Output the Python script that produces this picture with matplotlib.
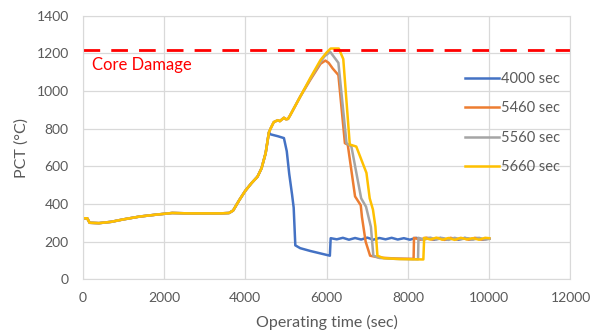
import matplotlib.pyplot as plt

plt.rcParams['font.family'] = ['Lato', 'DejaVu Sans']

# shared heat-up before the cases split
t_common = [0, 110, 170, 400, 700, 1000, 1400, 1800, 2200, 2600, 3000, 3400, 3600,
            3700, 3850, 4000, 4150, 4300, 4400, 4500, 4580]
v_common = [324, 324, 300, 298, 305, 318, 333, 343, 352, 350, 350, 350, 352,
            365, 420, 470, 510, 545, 590, 670, 780]

t_4000 = t_common + [4620, 4800, 4950, 5020, 5080, 5150, 5190, 5230, 5350, 5600, 5850, 6080,
                     6100, 6250, 6400, 6550, 6700, 6850, 7000, 7150, 7300, 7450, 7600, 7750,
                     7900, 8050, 8200, 8350, 8500, 8650, 8800, 8950, 9100, 9250, 9400, 9550,
                     9700, 9850, 10000]
v_4000 = v_common + [770, 760, 750, 680, 560, 450, 380, 180, 165, 150, 137, 125,
                     218, 212, 220, 210, 219, 211, 221, 210, 219, 212, 220, 211,
                     218, 210, 220, 212, 219, 210, 220, 211, 218, 210, 220, 212,
                     219, 211, 216]

t_5460 = t_common + [4620, 4700, 4800, 4850, 4950, 5000, 5050, 5100, 5350, 5600, 5850, 5970,
                     6050, 6150, 6290, 6450, 6520, 6700, 6840, 6870, 6960, 7070, 7300, 7700,
                     8140, 8150, 8300, 8450, 8600, 8750, 8900, 9050, 9200, 9350, 9500, 9650,
                     9800, 10000]
v_5460 = v_common + [800, 835, 845, 840, 858, 850, 852, 870, 970, 1060, 1145, 1162,
                     1150, 1120, 1085, 723, 715, 440, 393, 330, 200, 125, 115, 110,
                     108, 220, 210, 221, 211, 219, 209, 220, 212, 218, 210, 220,
                     211, 216]

t_5560 = t_common + [4620, 4700, 4800, 4850, 4950, 5000, 5050, 5100, 5350, 5600, 5850, 5950,
                     6090, 6290, 6490, 6610, 6850, 6970, 7090, 7150, 7300, 7700, 8250,
                     8260, 8400, 8550, 8700, 8850, 9000, 9150, 9300, 9450, 9600, 9750,
                     9900, 10000]
v_5560 = v_common + [800, 835, 845, 840, 858, 850, 852, 870, 970, 1065, 1155, 1185,
                     1208, 1150, 723, 705, 430, 385, 278, 125, 113, 108, 106,
                     220, 210, 221, 211, 219, 209, 220, 212, 218, 210, 220,
                     211, 214]

t_5660 = t_common + [4620, 4700, 4800, 4850, 4950, 5000, 5050, 5100, 5350, 5600, 5850, 6000,
                     6100, 6300, 6410, 6570, 6730, 6980, 7060, 7140, 7200, 7250, 7400, 7800,
                     8380, 8400, 8550, 8700, 8850, 9000, 9150, 9300, 9450, 9600, 9750,
                     9900, 10000]
v_5660 = v_common + [800, 835, 845, 840, 858, 850, 852, 870, 970, 1070, 1165, 1205,
                     1226, 1226, 1170, 716, 705, 565, 430, 370, 280, 125, 112, 107,
                     105, 220, 211, 221, 210, 219, 209, 220, 212, 218, 210,
                     220, 218]

core_damage = 1220

series = [
    ("4000 sec", t_4000, v_4000, "#4472C4"),
    ("5460 sec", t_5460, v_5460, "#ED7D31"),
    ("5560 sec", t_5560, v_5560, "#A5A5A5"),
    ("5660 sec", t_5660, v_5660, "#FFC000"),
]

fig = plt.figure(figsize=(5.96, 3.36), dpi=100)
ax = fig.add_axes([0.1388, 0.169, 0.8184, 0.784])

for name, t, v, c in series:
    ax.plot(t, v, color=c, lw=1.8, label=name)

ax.axhline(core_damage, color="#FF0000", lw=2, dashes=(6, 4))
ax.text(230, 1138, "Core Damage", color="#FF0000", fontsize=12, va="center")

ax.set_xlim(0, 12000)
ax.set_ylim(0, 1400)
ax.set_xticks(range(0, 12001, 2000))
ax.set_yticks(range(0, 1401, 200))
ax.grid(True, color="#D9D9D9", lw=0.9)
ax.set_axisbelow(True)
for s in ax.spines.values():
    s.set_color("#D9D9D9")
ax.tick_params(length=0, colors="#595959", labelsize=10)
ax.tick_params(axis="x", pad=9)
ax.tick_params(axis="y", pad=10)
ax.set_xlabel("Operating time (sec)", color="#595959", fontsize=11.5, labelpad=8)
ax.set_ylabel("PCT (\u00b0C)", color="#595959", fontsize=11.5, labelpad=6)

leg = ax.legend(loc="upper left", bbox_to_anchor=(465 / 596, 1 - 72 / 336),
                bbox_transform=fig.transFigure, frameon=False, fontsize=10.5,
                handlelength=2.3, handletextpad=0.2, labelspacing=1.05,
                borderpad=0, borderaxespad=0)
for txt in leg.get_texts():
    txt.set_color("#595959")

fig.savefig("out.png", dpi=100)
